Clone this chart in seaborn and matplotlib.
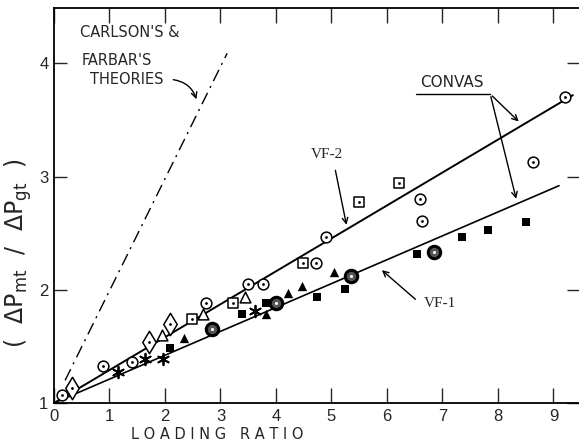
import numpy as np
import pandas as pd
import matplotlib
matplotlib.use("Agg")
import matplotlib.pyplot as plt
import seaborn as sns

# ---- data ----
circ_x = [0.15, 0.88, 1.41, 2.74, 3.49, 3.77, 4.72, 4.90, 6.60, 6.63, 8.63, 9.20]
circ_y = [1.07, 1.33, 1.36, 1.88, 2.05, 2.05, 2.24, 2.47, 2.80, 2.61, 3.13, 3.70]
osq_x = [2.49, 3.23, 4.49, 5.50, 6.22]
osq_y = [1.74, 1.88, 2.24, 2.78, 2.94]
dia_x = [0.33, 1.71, 2.09]
dia_y = [1.13, 1.54, 1.70]
otri_x = [1.95, 2.69, 3.44]
otri_y = [1.60, 1.79, 1.94]
ftri_x = [2.34, 3.82, 4.22, 4.47, 5.05]
ftri_y = [1.57, 1.79, 1.97, 2.03, 2.16]
fsq_x = [2.09, 3.38, 3.82, 4.74, 5.24, 6.54, 7.35, 7.82, 8.50]
fsq_y = [1.49, 1.79, 1.88, 1.94, 2.01, 2.32, 2.47, 2.53, 2.60]
star_x = [1.15, 1.64, 1.96, 3.62]
star_y = [1.27, 1.39, 1.39, 1.81]
bold_x = [2.85, 4.00, 5.35, 6.85]
bold_y = [1.65, 1.88, 2.12, 2.33]

vf2_x = [0.0, 9.35]
vf2_y = [1.00, 3.72]
vf1_x = [0.0, 9.10]
vf1_y = [1.00, 2.92]
theory_x = [0.20, 3.12]
theory_y = [1.20, 4.09]

xticks = [0, 1, 2, 3, 4, 5, 6, 7, 8, 9]
yticks = [1, 2, 3, 4]

sns.set_style("ticks")
plt.rcParams['font.family'] = ['DejaVu Sans']

fig = plt.figure(figsize=(5.79, 4.46), dpi=100)
ax = fig.add_axes([54/579, 43/446, 1 - 54/579, (403-8)/446])

# lines
sns.lineplot(x=vf2_x, y=vf2_y, ax=ax, color='black', lw=1.4)
sns.lineplot(x=vf1_x, y=vf1_y, ax=ax, color='black', lw=1.2)
sns.lineplot(x=theory_x, y=theory_y, ax=ax, color='black', lw=1.0,
             linestyle=(0, (9, 4, 1.5, 4)))

def dotted(xs, ys, marker, s):
    sns.scatterplot(x=xs, y=ys, ax=ax, marker=marker, s=s, facecolor='white',
                    edgecolor='black', linewidth=1.1, zorder=3)
    sns.scatterplot(x=xs, y=ys, ax=ax, marker='o', s=4, color='black',
                    linewidth=0, zorder=4)

dotted(circ_x, circ_y, 'o', 60)
dotted(osq_x, osq_y, 's', 50)
dotted(dia_x, dia_y, 'd', 130)
sns.scatterplot(x=otri_x, y=otri_y, ax=ax, marker='^', s=60, facecolor='white',
                edgecolor='black', linewidth=1.1, zorder=3)
sns.scatterplot(x=ftri_x, y=ftri_y, ax=ax, marker='^', s=45, color='black',
                linewidth=0, zorder=3)
sns.scatterplot(x=fsq_x, y=fsq_y, ax=ax, marker='s', s=30, color='black',
                linewidth=0, zorder=3)
sns.scatterplot(x=star_x, y=star_y, ax=ax, marker=(6, 2, 0), s=70, color='black',
                linewidth=1.3, zorder=3)
sns.scatterplot(x=bold_x, y=bold_y, ax=ax, marker='o', s=80, facecolor='#555555',
                edgecolor='black', linewidth=2.2, zorder=3)
sns.scatterplot(x=bold_x, y=bold_y, ax=ax, marker='o', s=5, color='white',
                linewidth=0, zorder=4)

ax.set_xlim(0, 9.46)
ax.set_ylim(1, 4.49)
ax.set_xticks(xticks)
ax.set_yticks(yticks)
ax.set_xticklabels([str(v) for v in xticks], fontsize=12, family='Liberation Sans')
ax.set_yticklabels([str(v) for v in yticks], fontsize=12, family='Liberation Sans')
ax.tick_params(axis='x', direction='in', length=11, width=1.0, top=True, pad=4)
ax.tick_params(axis='y', direction='in', length=9, width=1.0, right=True, pad=4)
ax.spines['right'].set_visible(False)
for sp in ['left', 'top', 'bottom']:
    ax.spines[sp].set_linewidth(1.3)
    ax.spines[sp].set_color('black')

ax.set_xlabel('L O A D I N G   R A T I O', fontsize=10.5)
ax.xaxis.set_label_coords((217-54)/525, -0.06)
ax.set_ylabel(r'$(\ \ \Delta \mathrm{P}_{\mathrm{mt}}\ \ /\ \ \Delta \mathrm{P}_{\mathrm{gt}}\ \ )$',
              fontsize=17)
ax.yaxis.set_label_coords(-0.038, 0.38)

# annotations
ax.text(0.47, 4.27, "CARLSON'S &", fontsize=10.5, va='center', ha='left')
ax.text(0.50, 4.03, "FARBAR'S", fontsize=10.5, va='center', ha='left')
ax.text(0.65, 3.86, "THEORIES", fontsize=10.5, va='center', ha='left')
ax.annotate('', xy=(2.58, 3.66), xytext=(2.10, 3.86),
            arrowprops=dict(arrowstyle='->', color='black', lw=1.0,
                            connectionstyle='arc3,rad=-0.35'))

ax.text(7.17, 3.83, 'CONVAS', fontsize=11, ha='center', va='center')
ax.plot([6.52, 7.86], [3.73, 3.73], color='black', lw=1.0)
ax.annotate('', xy=(8.41, 3.47), xytext=(7.86, 3.73),
            arrowprops=dict(arrowstyle='->', color='black', lw=1.0))
ax.annotate('', xy=(8.34, 2.78), xytext=(7.86, 3.73),
            arrowprops=dict(arrowstyle='->', color='black', lw=1.0))

ax.text(4.92, 3.20, 'VF-2', fontsize=11, family='Liberation Serif', ha='center', va='center')
ax.annotate('', xy=(5.28, 2.55), xytext=(5.06, 3.08),
            arrowprops=dict(arrowstyle='->', color='black', lw=1.0))
ax.text(6.95, 1.88, 'VF-1', fontsize=11, family='Liberation Serif', ha='center', va='center')
ax.annotate('', xy=(5.87, 2.19), xytext=(6.55, 1.90),
            arrowprops=dict(arrowstyle='->', color='black', lw=1.0))

fig.savefig('out.png', dpi=100)
